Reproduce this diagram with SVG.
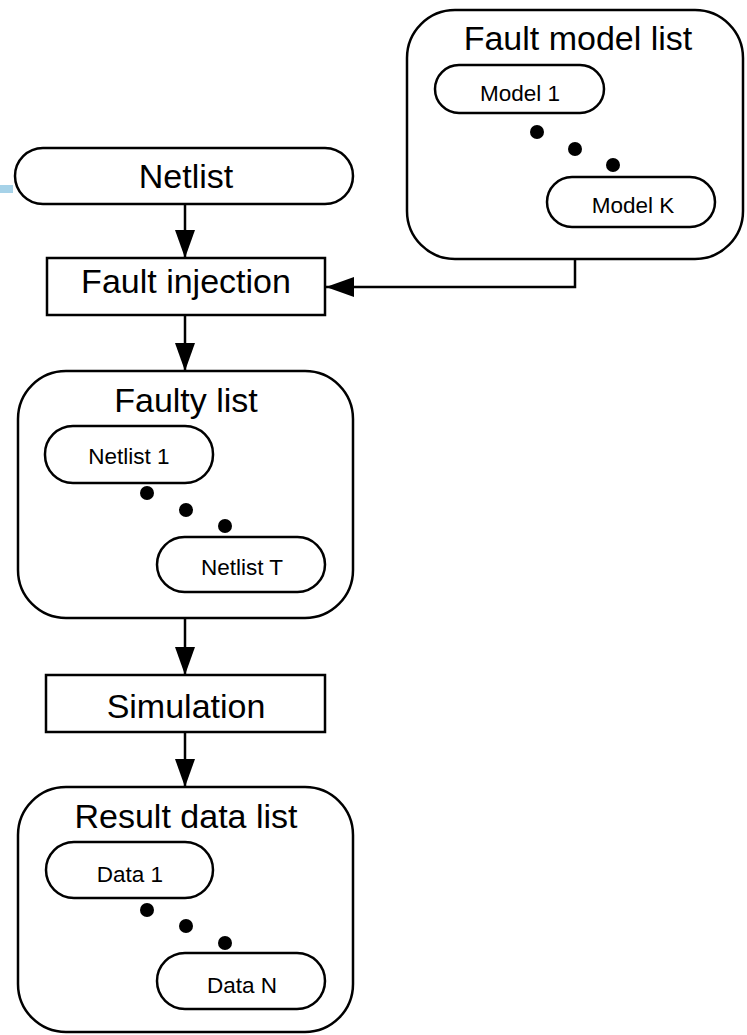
<svg xmlns="http://www.w3.org/2000/svg" width="747" height="1035" viewBox="0 0 747 1035">
<style>
.s{fill:#fff;stroke:#000;stroke-width:2.5}
.t{font-family:"Liberation Sans",Arial,sans-serif;fill:#000;text-anchor:middle}
.b{font-size:34px}
.m{font-size:22.5px}
.c{stroke:#000;stroke-width:2.5;fill:none}
</style>
<defs>
<marker id="ah" markerWidth="28" markerHeight="20" refX="28" refY="10" orient="auto" markerUnits="userSpaceOnUse">
<path d="M0,0 L28,10 L0,20 Z" fill="#000"/>
</marker>
</defs>
<rect x="0" y="185" width="13" height="8" fill="#a6d2e8"/>
<g id="connectors">
<line class="c" x1="185" y1="204" x2="185" y2="258" marker-end="url(#ah)"/>
<line class="c" x1="185" y1="315" x2="185" y2="371" marker-end="url(#ah)"/>
<line class="c" x1="185" y1="618" x2="185" y2="675" marker-end="url(#ah)"/>
<line class="c" x1="185" y1="732" x2="185" y2="787" marker-end="url(#ah)"/>
<polyline class="c" points="575,259 575,287 326,287" marker-end="url(#ah)"/>
</g>
<g id="netlist">
<rect class="s" x="15" y="148" width="338" height="56" rx="28"/>
<text class="t b" x="186" y="188">Netlist</text>
</g>
<g id="fault-injection">
<rect class="s" x="47" y="258" width="278" height="57"/>
<text class="t b" x="186" y="293">Fault injection</text>
</g>
<g id="fault-model-list">
<rect class="s" x="407" y="10" width="336" height="249" rx="48"/>
<text class="t b" x="578" y="50">Fault model list</text>
<rect class="s" x="435" y="65" width="169" height="48" rx="24"/>
<text class="t m" x="520" y="101">Model 1</text>
<circle cx="537" cy="132" r="7"/>
<circle cx="575" cy="149" r="7"/>
<circle cx="613" cy="165" r="7"/>
<rect class="s" x="547" y="177" width="168" height="50" rx="25"/>
<text class="t m" x="633" y="213">Model K</text>
</g>
<g id="faulty-list">
<rect class="s" x="18" y="371" width="335" height="247" rx="48"/>
<text class="t b" x="186" y="412">Faulty list</text>
<rect class="s" x="45" y="426" width="168" height="57" rx="28"/>
<text class="t m" x="129" y="464">Netlist 1</text>
<circle cx="147" cy="493" r="7"/>
<circle cx="186" cy="510" r="7"/>
<circle cx="225" cy="526" r="7"/>
<rect class="s" x="157" y="537" width="168" height="55" rx="27.5"/>
<text class="t m" x="242" y="575">Netlist T</text>
</g>
<g id="simulation">
<rect class="s" x="46" y="675" width="279" height="57"/>
<text class="t b" x="186" y="718">Simulation</text>
</g>
<g id="result-data-list">
<rect class="s" x="18" y="787" width="335" height="245" rx="48"/>
<text class="t b" x="186" y="828">Result data list</text>
<rect class="s" x="46" y="842" width="167" height="56" rx="28"/>
<text class="t m" x="130" y="882">Data 1</text>
<circle cx="147" cy="910" r="7"/>
<circle cx="186" cy="926" r="7"/>
<circle cx="225" cy="943" r="7"/>
<rect class="s" x="157" y="953" width="168" height="56" rx="28"/>
<text class="t m" x="242" y="993">Data N</text>
</g>
</svg>
